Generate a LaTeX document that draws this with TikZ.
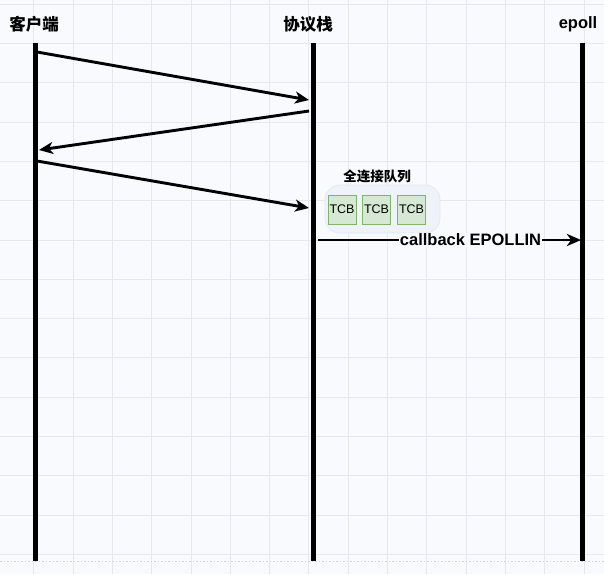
\documentclass[tikz,border=0pt]{standalone}
\usepackage{fontspec}
\setmainfont{Liberation Sans}
\newfontfamily\cjk{Noto Sans CJK SC}
\usetikzlibrary{arrows.meta}
\definecolor{bgc}{HTML}{F9FAFD}
\definecolor{gridc}{HTML}{E6E8EE}
\definecolor{qfill}{HTML}{EEF2F9}
\definecolor{qdraw}{HTML}{E2E8F2}
\definecolor{tcbfill}{HTML}{D5E8D4}
\definecolor{tcbdraw}{HTML}{82B366}
\tikzset{
  lifeline/.style={line width=5pt, black},
  msg/.style={line width=2.9pt, black, -{Stealth[length=14pt,width=12pt,inset=4pt]}},
  head/.style={font=\cjk\bfseries\fontsize{16.5}{18}\selectfont, inner sep=0pt},
  tcb/.style={draw=tcbdraw, fill=tcbfill, line width=0.8pt, minimum width=28pt, minimum height=29pt, inner sep=0pt, font=\fontsize{12.5}{14}\selectfont},
}
\begin{document}
\begin{tikzpicture}[x=1pt,y=-1pt]
\useasboundingbox (0,0) rectangle (604,574);
\fill[bgc] (0,0) rectangle (604,574);
% grid
\foreach \k in {0,...,14} {\draw[gridc, line width=0.8pt] ({33.7+39.3*\k},0) -- ({33.7+39.3*\k},574);}
\foreach \k in {-1,...,13} {\draw[gridc, line width=0.8pt] (0,{43.4+39.3*\k}) -- (604,{43.4+39.3*\k});}
\draw[gridc!80!gray, line width=0.8pt, dash pattern=on 1.5pt off 2pt] (0,561) -- (604,561);
% headers
\node[head] (hc) at (34,24) {客户端};
\node[head] (hp) at (308,24) {协议栈};
\node[head, font=\bfseries\fontsize{16.5}{18}\selectfont] (he) at (578,24) {epoll};
% lifelines
\coordinate (ct) at (35,43); \coordinate (cb) at (35,561);
\coordinate (pt) at (313,43); \coordinate (pb) at (313,561);
\coordinate (et) at (582,43); \coordinate (eb) at (582,561);
\draw[lifeline] (ct) -- (cb);
\draw[lifeline] (pt) -- (pb);
\draw[lifeline] (et) -- (eb);
% messages
\coordinate (m1s) at (37,52); \coordinate (m1e) at (309,100);
\coordinate (m2s) at (309,111); \coordinate (m2e) at (39,150);
\coordinate (m3s) at (37,161); \coordinate (m3e) at (309,208);
\draw[msg] (m1s) -- (m1e);
\draw[msg] (m2s) -- (m2e);
\draw[msg] (m3s) -- (m3e);
% queue
\node[draw=qdraw, fill=qfill, rounded corners=15pt, minimum width=115pt, minimum height=48pt, line width=0.8pt] (queue) at (382.5,209) {};
\node[font=\cjk\bfseries\fontsize{13.5}{15}\selectfont, inner sep=0pt] (qlabel) at (377,176) {全连接队列};
\node[tcb] (t1) at (342,209.5) {TCB};
\node[tcb] (t2) at (376.5,209.5) {TCB};
\node[tcb] (t3) at (411.5,209.5) {TCB};
% callback
\coordinate (cbs) at (318,240); \coordinate (cbe) at (581,240);
\draw[msg] (cbs) -- (cbe) node[pos=0.58, fill=bgc, inner sep=1pt, font=\bfseries\fontsize{16.5}{18}\selectfont] (cbl) {callback EPOLLIN};
\end{tikzpicture}
\end{document}
